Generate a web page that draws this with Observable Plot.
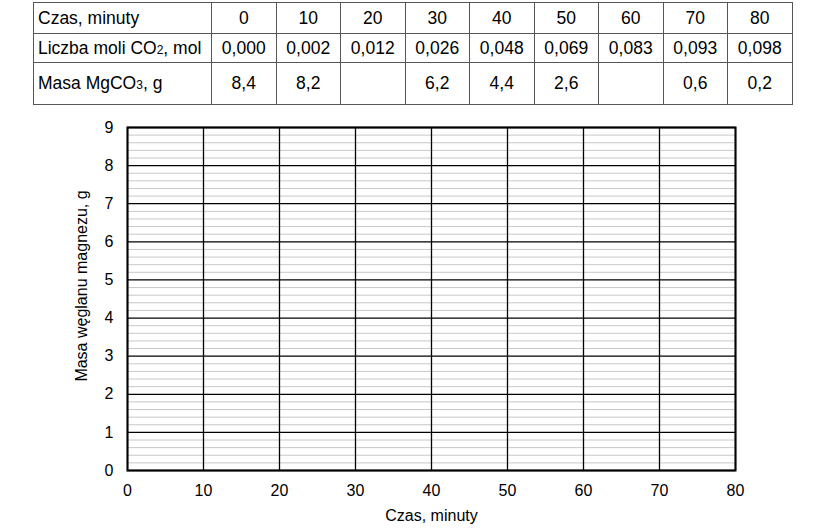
<!DOCTYPE html>
<html><head><meta charset="utf-8">
<script src="https://cdn.jsdelivr.net/npm/d3@7"></script>
<script src="https://cdn.jsdelivr.net/npm/@observablehq/plot@0.6"></script>
<style>
body{margin:0;background:#fff;font-family:"Liberation Sans",Arial,sans-serif;}
#wrap{position:relative;width:833px;height:529px;}
table{position:absolute;left:33px;top:2px;border-collapse:collapse;font-size:17.5px;color:#000;}
td{border:1px solid #555;text-align:center;padding:0;width:63.5px;}
td.h{text-align:left;padding-left:4px;width:173px;white-space:nowrap;}
tr.r1 td{height:30px;} tr.r2 td{height:28px;} tr.r3 td{height:41px;}
sub{font-size:12px;vertical-align:baseline;position:relative;top:0px;}
#chart{position:absolute;left:0;top:110px;}
</style></head><body>
<div id="wrap"><table id="tbl"></table><div id="chart"></div></div>
<script>
const times = [0, 10, 20, 30, 40, 50, 60, 70, 80];
const molesCO2 = ["0,000", "0,002", "0,012", "0,026", "0,048", "0,069", "0,083", "0,093", "0,098"];
const massMgCO3 = ["8,4", "8,2", "", "6,2", "4,4", "2,6", "", "0,6", "0,2"];
const rowLabels = ["Czas, minuty", "Liczba moli CO<sub>2</sub>, mol", "Masa MgCO<sub>3</sub>, g"];
const xTicks = [0, 10, 20, 30, 40, 50, 60, 70, 80];
const yTicks = [0, 1, 2, 3, 4, 5, 6, 7, 8, 9];
const yMinor = d3.range(0, 45).map(i => i / 5).filter(v => !Number.isInteger(Math.round(v * 1000) / 1000));
const yLabel = "Masa węglanu magnezu, g";
const xLabel = "Czas, minuty";

const tbl = document.getElementById("tbl");
[times, molesCO2, massMgCO3].forEach((row, i) => {
  const tr = document.createElement("tr");
  tr.className = "r" + (i + 1);
  tr.innerHTML = `<td class="h">${rowLabels[i]}</td>` + row.map(v => `<td>${v}</td>`).join("");
  tbl.appendChild(tr);
});

const chart = Plot.plot({
  width: 833, height: 419,
  marginLeft: 127, marginRight: 98, marginTop: 17, marginBottom: 59,
  style: {fontFamily: "Liberation Sans, Arial, sans-serif", fontSize: "16px", color: "#000"},
  x: {domain: [0, 80]},
  y: {domain: [0, 9]},
  marks: [
    Plot.ruleY(yMinor.filter(v => !yTicks.includes(v)), {stroke: "#c8c8c8", strokeWidth: 1}),
    Plot.ruleY(yTicks, {stroke: "#000", strokeWidth: 1.3}),
    Plot.ruleX(xTicks, {stroke: "#000", strokeWidth: 1.3}),
    Plot.frame({stroke: "#000", strokeWidth: 2}),
    Plot.axisX({ticks: xTicks, tickSize: 0, tickPadding: 14, tickFormat: d => String(d), label: xLabel, labelAnchor: "center", labelArrow: "none", labelOffset: 50}),
    Plot.axisY({ticks: yTicks, tickSize: 0, tickPadding: 14, tickFormat: d => String(d), label: null}),
    Plot.text([yLabel], {text: d => d, frameAnchor: "left", textAnchor: "middle", rotate: -90, dx: -46, dy: -13, fontSize: 16, fill: "#000"})
  ]
});
document.getElementById("chart").appendChild(chart);
</script></body></html>
